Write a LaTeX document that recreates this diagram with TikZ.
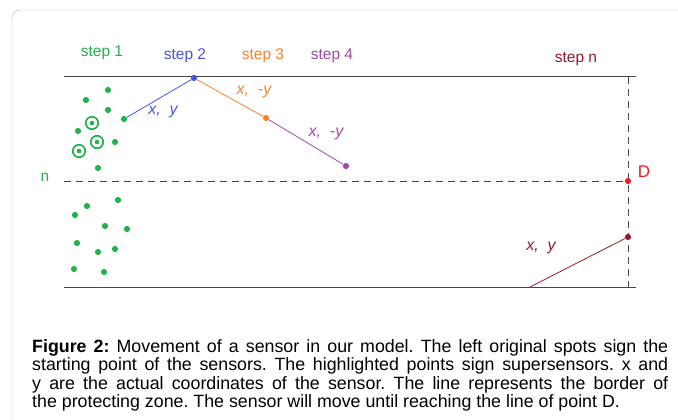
\documentclass[tikz,border=0pt]{standalone}
\usepackage{fontspec}
\setmainfont{Liberation Sans}
\definecolor{sgreen}{RGB}{34,177,76}
\definecolor{sblue}{RGB}{72,84,222}
\definecolor{sorange}{RGB}{255,127,39}
\definecolor{spurple}{RGB}{163,73,164}
\definecolor{sdark}{RGB}{150,24,46}
\definecolor{sred}{RGB}{237,28,36}
\definecolor{linegray}{RGB}{70,70,70}
\definecolor{framegray}{RGB}{175,175,175}
\tikzset{
  dot/.style={circle, fill, inner sep=0pt, minimum size=6.2pt},
  ring/.style={circle, draw, line width=1.7pt, inner sep=0pt, minimum size=12.5pt},
  steplabel/.style={font=\fontsize{15.5}{17}\selectfont},
  coordlabel/.style={font=\fontsize{16}{18}\selectfont\itshape},
  zoneline/.style={linegray, line width=1pt},
  zonedash/.style={linegray, line width=1pt, dash pattern=on 7pt off 5pt},
}

\begin{document}
\frenchspacing
\begin{tikzpicture}[x=1pt,y=-1pt]
\useasboundingbox (0,0) rectangle (678,420);
\draw[framegray, rounded corners=8pt] (12,420) -- (12,10) -- (678,10);
% zone
\draw[zoneline] (64,77) -- (636,77);
\draw[zoneline] (64,287) -- (636,287);
\draw[zonedash] (64,181) -- (628,181);
\draw[zonedash] (628,77) -- (628,287);
\node[sgreen, steplabel] (n) at (45,177) {n};
% step labels
\node[sgreen, steplabel] (step1) at (102,53) {step 1};
\node[sblue, steplabel] (step2) at (185,56) {step 2};
\node[sorange, steplabel] (step3) at (263,56) {step 3};
\node[spurple, steplabel] (step4) at (332,56) {step 4};
\node[sdark, steplabel] (stepn) at (576,59) {step n};
% sensors
\foreach \x/\y [count=\i] in {108/90, 86/100, 108/110, 78/131, 115/142, 98/168,
  118/200, 87/206, 75/215, 105/226, 127/229, 77/243, 115/249, 98/252, 74/269, 104/272}
  \node[dot, sgreen] (g\i) at (\x,\y) {};
\foreach \x/\y [count=\i] in {92/123, 97/142, 79/151} {
  \node[ring, sgreen] (r\i) at (\x,\y) {};
  \node[dot, sgreen, minimum size=4.6pt] (rc\i) at (\x,\y) {};
}
% movement
\node[dot, sgreen] (s1) at (124,119) {};
\node[dot, sblue] (s2) at (194,78) {};
\node[dot, sorange] (s3) at (266,118) {};
\node[dot, spurple] (s4) at (346,166) {};
\node[dot, sred] (d) at (628,181) {};
\node[dot, sdark] (sn) at (628,237) {};
\coordinate (e) at (530,287);
\draw[sblue, line width=0.8pt] (s1) -- (s2);
\draw[sorange, line width=0.8pt] (s2) -- (s3);
\draw[spurple, line width=0.8pt] (s3) -- (s4);
\draw[sdark, line width=0.8pt] (sn) -- (e);
\node[sblue, coordlabel] (xy1) at (163,112) {x,\ \ y};
\node[sorange, coordlabel] (xy2) at (254,92) {x,\ \ -y};
\node[spurple, coordlabel] (xy3) at (326,134) {x,\ \ -y};
\node[sdark, coordlabel] (xyn) at (541,248) {x,\ \ y};
\node[sred, font=\fontsize{17}{19}\selectfont] (dlabel) at (644,172) {D};
% caption
\node[anchor=north west, text width=636pt, align=justify, inner sep=0pt,
  font=\fontsize{17.8}{18.6}\selectfont] (caption) at (32,339)
  {\textbf{Figure 2:} Movement of a sensor in our model. The left original spots sign the\linebreak
  starting point of the sensors. The highlighted points sign supersensors. x and\linebreak
  y are the actual coordinates of the sensor. The line represents the border of\linebreak
  the protecting zone. The sensor will move until reaching the line of point D.};
\end{tikzpicture}
\end{document}
